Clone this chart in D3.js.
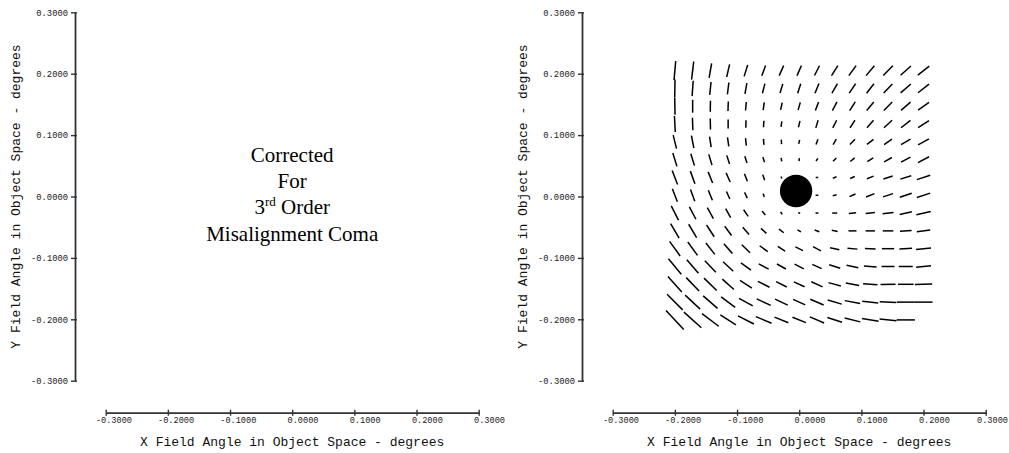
<!DOCTYPE html>
<html><head><meta charset="utf-8">
<script src="https://cdn.jsdelivr.net/npm/d3@7/dist/d3.min.js"></script>
<style>
html,body{margin:0;padding:0;background:#fff;}
svg{display:block;}
</style></head>
<body><svg id="chart" width="1009" height="453"></svg>
<script>
// ---------- data ----------
const xTicks = [-0.3, -0.2, -0.1, 0.0, 0.1, 0.2, 0.3];
const xTickLabels = ["-0.3000", "-0.2000", "-0.1000", "0.0000", "0.1000", "0.2000", "0.3000"];
const yTicks = [0.3, 0.2, 0.1, 0.0, -0.1, -0.2, -0.3];
const yTickLabels = ["0.3000", "0.2000", "0.1000", "0.0000", "-0.1000", "-0.2000", "-0.3000"];
const xTitle = "X Field Angle in Object Space - degrees";
const yTitle = "Y Field Angle in Object Space - degrees";
const noteLines = ["Corrected", "For", "3|rd| Order", "Misalignment Coma"];

// field grid (degrees)
const fieldX = [-0.2, -0.1714, -0.1429, -0.1143, -0.0857, -0.0571, -0.0286, 0.0, 0.0286, 0.0571, 0.0857, 0.1143, 0.1429, 0.1714, 0.2];
const fieldY = [0.205, 0.176, 0.147, 0.118, 0.089, 0.060, 0.031, 0.002, -0.027, -0.056, -0.085, -0.114, -0.143, -0.172, -0.201];

// coma orientation (degrees, counter-clockwise from +X), one row per fieldY
const comaAngle = [
  [85,83,80,77,73,70,66,66,63,58,54,50,46,42,38],
  [89,86,84,83,80,76,73,72,68,60,56,52,46,41,38],
  [91,90,89,88,85,82,78,74,69,62,57,50,45,41,36],
  [93,92,91,90,88,86,82,76,73,63,57,49,43,38,33],
  [104,101,99,98,96,95,93,78,70,60,45,38,35,31,29],
  [107,107,107,108,109,108,100,84,55,45,40,32,29,28,28],
  [111,110,112,114,112,108,110,0,0,22,24,22,18,17,18],
  [111,110,112,114,115,107,150,0,0,15,24,22,18,18,18],
  [117,118,119,119,125,130,122,165,0,0,5,6,7,13,13],
  [120,121,123,126,131,137,142,150,160,170,0,0,0,3,8],
  [126,126,128,131,136,144,147,154,152,168,175,178,0,3,6],
  [130,131,134,137,144,152,151,153,155,163,167,175,0,0,6],
  [132,134,136,138,147,153,153,155,156,165,169,176,1,0,2],
  [135,137,139,143,151,155,155,156,157,164,169,174,177,0,0],
  [133,138,143,147,153,157,158,158,157,162,166,171,174,0,null]
];
// coma magnitude (display units), one row per fieldY
const comaLen = [
  [19,18,14.5,13,12,11,11,11,11,12,12.4,13,13.7,14,14.5],
  [18,15.5,13,12,11,10,9.5,10,10.5,11,11.5,12,12.5,13.5,14],
  [17,13,11,9.5,8.5,8,7.5,8,9,9.7,10.3,11,11.8,12.5,13.5],
  [16,12.5,11,9,7.5,6.5,5.5,6.5,8,8.5,9,10,11,12,13],
  [14,12.5,10.5,9,7.5,6,4.5,4,5.5,6.3,7.3,8.3,9.5,11,12.5],
  [14,12.5,11,9,7,5.3,3.5,3,3.3,4.7,5.7,7,8.8,10.6,12.5],
  [15,13.5,12,10,8,6,2,1,2.5,4,5,7.2,9.8,11.5,14],
  [14,12.5,10.8,8.3,6.3,3.5,1,1,2.7,4,6.5,9,10.5,12.6,14],
  [16,14,12.5,10.3,8,5.2,3,2,3,5,7.3,9.3,11,12.5,14.7],
  [17,15.5,14,11.5,9.7,7.3,6,4,5,6,8,9.3,10.5,11.7,13.5],
  [18,16.5,14.5,13,11.5,10,8.7,8.5,9,9.5,10,10.7,12.3,12.7,15],
  [20,17.7,15.8,14,12.4,11.3,10.3,10.3,10.3,11.5,12,12.7,13,14,15],
  [20.8,18.6,17.7,15.6,14.2,13,12,11.8,12.4,12.8,13.6,14.4,15,15.7,17.3],
  [22,20.5,19,17.6,15.7,15.5,14,13.3,14.5,14.6,15.6,16,16.7,17.7,18],
  [26,23.4,21,18.6,17.9,17,15,14.5,15.5,15.4,16.2,16.9,17,18.3,null]
];
// zero-coma point (degrees) and marker radius (degrees)
const zeroPoint = {x: -0.005, y: 0.009, r: 0.026};

// ---------- drawing ----------
const svg = d3.select("#chart");
const panelOffsets = [0, 507];
const monoFont = "'Liberation Mono', 'DejaVu Sans Mono', monospace";
const svgWidth = 1009;

function drawAxes(g, x, y, axisX) {
  // x axis
  const xa = g.append("g").attr("transform", `translate(0,412.7)`)
    .call(d3.axisBottom(x).tickValues(xTicks).tickSize(0).tickSizeOuter(0)
      .tickFormat((d, i) => xTickLabels[i]));
  xa.select(".domain").attr("stroke", "#333").attr("stroke-width", 1.8);
  xa.selectAll(".tick line").attr("y1", -3).attr("y2", 3).attr("stroke", "#333").attr("stroke-width", 1.4);
  xa.selectAll(".tick text")
    .attr("y", 4).attr("dy", "0.71em")
    .attr("text-anchor", "start")
    .attr("dx", (d, i) => (-0.6 * xTickLabels[i].indexOf(".")) + "em")
    .attr("font-family", monoFont).attr("font-size", 8.6).attr("fill", "#222");
  // keep labels inside the page
  xa.selectAll(".tick text").each(function () {
    const b = this.getBoundingClientRect();
    if (b.right > svgWidth - 1) {
      const cur = parseFloat(d3.select(this).attr("x") || 0);
      d3.select(this).attr("x", cur - (b.right - (svgWidth - 1)));
    }
  });

  // y axis
  const ya = g.append("g").attr("transform", `translate(${axisX},0)`)
    .call(d3.axisLeft(y).tickValues(yTicks).tickSize(0).tickSizeOuter(0).tickPadding(7)
      .tickFormat((d, i) => yTickLabels[i]));
  ya.select(".domain").attr("stroke", "#333").attr("stroke-width", 1.8);
  ya.selectAll(".tick line").attr("x1", -4).attr("x2", 2).attr("stroke", "#333").attr("stroke-width", 1.4);
  ya.selectAll(".tick text")
    .attr("font-family", monoFont).attr("font-size", 8.8).attr("fill", "#222");

  // titles
  const xr = x.range();
  g.append("text")
    .attr("x", (xr[0] + xr[1]) / 2).attr("y", 445.5)
    .attr("text-anchor", "middle")
    .attr("font-family", monoFont).attr("font-size", 13).attr("fill", "#111")
    .text(xTitle);
  const yr = y.range();
  const cy = (yr[0] + yr[1]) / 2;
  g.append("text")
    .attr("transform", `translate(${axisX - 60},${cy}) rotate(-90)`)
    .attr("text-anchor", "middle").attr("dy", "0.35em")
    .attr("font-family", monoFont).attr("font-size", 13).attr("fill", "#111")
    .text(yTitle);
}

panelOffsets.forEach((ox, pi) => {
  const g = svg.append("g");
  const x = d3.scaleLinear().domain([-0.3, 0.3]).range([105.7 + ox, 478.7 + ox]);
  const y = d3.scaleLinear().domain([-0.3, 0.3]).range([380.7, 12.3]);
  drawAxes(g, x, y, 75 + ox);

  if (pi === 0) {
    const cx = (x.range()[0] + x.range()[1]) / 2;
    const baselines = [162, 188, 214, 240.5];
    noteLines.forEach((line, i) => {
      const t = g.append("text")
        .attr("x", cx).attr("y", baselines[i])
        .attr("text-anchor", "middle")
        .attr("font-family", "'Liberation Serif', 'Times New Roman', serif")
        .attr("font-size", 21).attr("fill", "#000");
      const parts = line.split("|");
      if (parts.length === 1) {
        t.text(line);
      } else {
        t.append("tspan").text(parts[0]);
        t.append("tspan").attr("font-size", 13).attr("dy", -8).text(parts[1]);
        t.append("tspan").attr("dy", 8).text(parts[2]);
      }
    });
  } else {
    const lenScale = d3.scaleLinear().domain([0, 30]).range([0, 30]);
    const segs = [];
    fieldY.forEach((fy, r) => {
      fieldX.forEach((fx, c) => {
        const a = comaAngle[r][c], L = comaLen[r][c];
        if (a == null || L == null) return;
        segs.push({fx, fy, a, L});
      });
    });
    g.append("g").selectAll("line").data(segs).join("line")
      .attr("x1", d => x(d.fx) - lenScale(d.L) / 2 * Math.cos(d.a * Math.PI / 180))
      .attr("y1", d => y(d.fy) + lenScale(d.L) / 2 * Math.sin(d.a * Math.PI / 180))
      .attr("x2", d => x(d.fx) + lenScale(d.L) / 2 * Math.cos(d.a * Math.PI / 180))
      .attr("y2", d => y(d.fy) - lenScale(d.L) / 2 * Math.sin(d.a * Math.PI / 180))
      .attr("stroke", "#000").attr("stroke-width", 1.5).attr("stroke-linecap", "butt");
    g.append("circle")
      .attr("cx", x(zeroPoint.x)).attr("cy", y(zeroPoint.y))
      .attr("r", x(zeroPoint.r) - x(0))
      .attr("fill", "#000");
  }
});
</script></body></html>
